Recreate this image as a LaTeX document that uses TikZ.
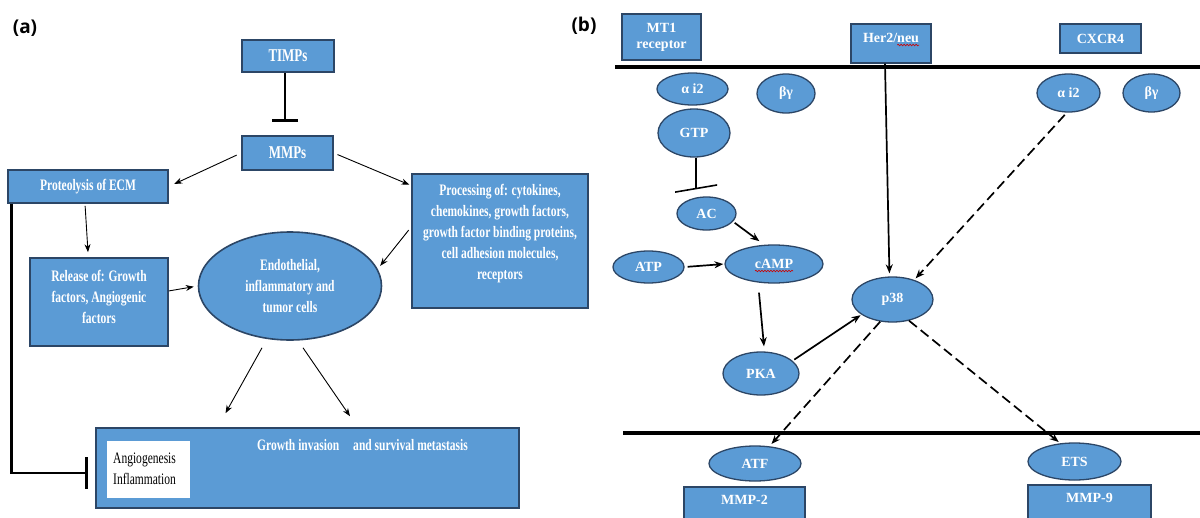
\documentclass[tikz,border=0pt]{standalone}
\usepackage{fontspec}
\setmainfont{Liberation Serif}
\newfontfamily\lfont[FakeStretch=0.72]{Liberation Serif}
\newfontfamily\labfont{Open Sans}
\usetikzlibrary{shapes.geometric,arrows.meta,decorations.pathmorphing}
\definecolor{mblue}{RGB}{91,155,213}
\definecolor{bord}{RGB}{44,70,102}
\tikzset{
  lbox/.style={rectangle, draw=bord, fill=mblue, line width=1.6pt, text=white, inner sep=0pt,
    font=\lfont\bfseries\fontsize{16}{21}\selectfont, align=center},
  lell/.style={ellipse, draw=bord, fill=mblue, line width=1.6pt, text=white, inner sep=0pt,
    font=\lfont\bfseries\fontsize{16}{21}\selectfont, align=center},
  ltxt/.style={text=white, inner sep=0pt, font=\lfont\bfseries\fontsize{16}{21}\selectfont, align=center},
  bigtxt/.style={font=\lfont\bfseries\fontsize{18}{21}\selectfont},
  rbox/.style={rectangle, draw=bord, fill=mblue, line width=1.3pt, text=white, inner sep=0pt,
    font=\bfseries\fontsize{14}{16}\selectfont, align=center},
  rell/.style={ellipse, draw=bord, fill=mblue, line width=1.3pt, text=white, inner sep=0pt,
    font=\bfseries\fontsize{14}{16}\selectfont, align=center},
  rtxt/.style={text=white, inner sep=0pt, font=\bfseries\fontsize{14}{16}\selectfont},
  arrL/.style={-{Stealth[length=8pt,width=6pt]}, line width=0.9pt},
  arrR/.style={-{Stealth[length=9pt,width=7pt]}, line width=1.7pt},
  dashR/.style={arrR, dash pattern=on 10pt off 5pt},
  inhL/.style={line width=2.8pt},
  mem/.style={line width=3.2pt},
  squig/.style={red!80!black, line width=0.6pt, decorate, decoration={snake, amplitude=0.8pt, segment length=3pt}},
  lab/.style={inner sep=0pt, font=\labfont\bfseries\fontsize{19}{22}\selectfont}
}
\begin{document}
\begin{tikzpicture}[x=1pt,y=-1pt]
\useasboundingbox (0,0) rectangle (1200,517);
\fill[white] (0,0) rectangle (1200,517);
% ---------- panel (a) ----------
\node[lab] (la) at (25,28) {(a)};
\node[lbox, bigtxt, minimum width=92pt, minimum height=32pt] (timps) at (288,56) {TIMPs};
\node[lbox, bigtxt, minimum width=91pt, minimum height=34pt] (mmps) at (287.5,153) {MMPs};
\node[lbox, minimum width=160pt, minimum height=33pt] (prot) at (88,186.5) {Proteolysis of ECM};
\node[lbox, minimum width=176pt, minimum height=134pt] (proc) at (500,241) {};
\node[ltxt] (proct) at (500,234) {Processing of: cytokines,\\chemokines, growth factors,\\growth factor binding proteins,\\cell adhesion molecules,\\receptors};
\node[lbox, minimum width=138pt, minimum height=88pt] (rel) at (99,302) {};
\node[ltxt] (relt) at (99,297) {Release of: Growth\\factors, Angiogenic\\factors};
\node[lell, minimum width=183pt, minimum height=108pt] (ell) at (290,286) {Endothelial,\\inflammatory and\\tumor cells};
\node[lbox, minimum width=423pt, minimum height=80pt] (big) at (307.5,468) {};
\node[fill=white, minimum width=83pt, minimum height=57pt, inner sep=0pt] (angbox) at (148,469.5) {};
\node[anchor=west, align=left, inner sep=0pt, font=\lfont\fontsize{16}{21}\selectfont] (angt) at (113,468.5) {Angiogenesis\\Inflammation};
\node[ltxt, anchor=west] (grow) at (257,445) {Growth invasion\hspace{14pt}and survival metastasis};

\draw[inhL, -{Bar[width=26pt]}] ([xshift=-3pt]timps.south) -- ([xshift=-2.5pt,yshift=13pt]mmps.north);
\draw[arrL, shorten <=5pt, shorten >=6pt] (mmps.west) -- (prot.east);
\draw[arrL, shorten <=4pt, shorten >=2pt] (mmps.east) -- (proc.148);
\draw[arrL, shorten <=2pt] ([xshift=-3pt]prot.south) -- ([xshift=-11pt,yshift=5pt]rel.north);
\draw[arrL, shorten >=4pt] (rel.9) -- (ell.west);
\draw[arrL, shorten <=4pt, shorten >=4pt] (proc.171) -- (ell.11);
\draw[arrL] ([xshift=-28pt,yshift=-7pt]ell.south) -- ([xshift=-82pt,yshift=14pt]big.north);
\draw[arrL] ([xshift=13pt,yshift=-7pt]ell.south) -- ([xshift=42.5pt,yshift=11pt]big.north);
\draw[inhL, -{Bar[width=32pt]}] ([xshift=4pt]prot.south west) |- ([xshift=-7pt,yshift=-5pt]big.west);

% ---------- panel (b) ----------
\node[lab] (lb) at (584,26) {(b)};
\coordinate (mtL) at (615,67);
\coordinate (mtR) at (1200,67);
\coordinate (mbL) at (623,433);
\coordinate (mbR) at (1200,433);
\draw[mem] (mtL) -- (mtR);
\draw[mem] (mbL) -- (mbR);

\node[rbox, minimum width=79pt, minimum height=46pt] (mt1) at (661.5,37) {MT1\\receptor};
\node[rbox, minimum width=80pt, minimum height=39pt] (her2) at (891,43.5) {};
\node[rtxt] (her2t) at (891,38) {Her2/neu};
\node[rbox, minimum width=81pt, minimum height=29pt] (cxcr4) at (1100.5,38.5) {CXCR4};

\node[rell, minimum width=71pt, minimum height=32pt] (ai2a) at (692.5,89) {α i2};
\node[rell, minimum width=58pt, minimum height=39pt] (bga) at (786,93.5) {βγ};
\node[rell, minimum width=72pt, minimum height=48pt] (gtp) at (694,133) {GTP};
\node[rell, minimum width=59pt, minimum height=33pt] (ac) at (706.5,213.5) {AC};
\node[rell, minimum width=71pt, minimum height=32pt] (atp) at (648.5,267) {ATP};
\node[rell, minimum width=98pt, minimum height=38pt] (camp) at (774,264) {cAMP};
\node[rell, minimum width=76pt, minimum height=43pt] (pka) at (761,373.5) {PKA};
\node[rell, minimum width=81pt, minimum height=45pt] (p38) at (892.5,299.5) {p38};
\node[rell, minimum width=63pt, minimum height=38pt] (ai2b) at (1068.5,93) {α i2};
\node[rell, minimum width=57pt, minimum height=38pt] (bgb) at (1151.5,93) {βγ};
\node[rell, minimum width=92pt, minimum height=35pt] (atf) at (755,463.5) {ATF};
\node[rell, minimum width=93pt, minimum height=37pt] (ets) at (1074.5,461.5) {ETS};
\node[rbox, minimum width=121pt, minimum height=46pt] (mmp2) at (744.5,510) {};
\node[rtxt] (mmp2t) at (744.5,500) {MMP-2};
\node[rbox, minimum width=123pt, minimum height=46pt] (mmp9) at (1089.5,508) {};
\node[rtxt] (mmp9t) at (1089.5,498) {MMP-9};

\draw[squig] ([xshift=-22pt,yshift=-2.5pt]her2t.base east) -- ([yshift=-2.5pt]her2t.base east);
\draw[squig] ([xshift=-19pt,yshift=-7pt]camp.center) -- ([xshift=19pt,yshift=-7pt]camp.center);

\draw[line width=1.6pt, -{Bar[width=42pt, slant=-0.17]}] ([xshift=2pt]gtp.south) -- ([xshift=-10.5pt,yshift=7pt]ac.north);
\draw[arrR, shorten <=2pt, shorten >=6pt] (ac.-17) -- (camp.117);
\draw[arrR, shorten <=3pt, shorten >=1pt] (atp.east) -- (camp.west);
\draw[arrR] ([xshift=-15pt,yshift=-9pt]camp.south) -- ([xshift=3pt,yshift=5pt]pka.north);
\draw[arrR, shorten <=2pt, shorten >=1pt] (pka.22) -- (p38.206);
\draw[arrR, shorten >=3pt] ([xshift=-6pt]her2.south) -- ([xshift=-3pt]p38.north);
\draw[dashR, shorten <=3pt, shorten >=2pt] (ai2b.265) -- (p38.42);
\draw[dashR, shorten >=3pt] (p38.241) -- (atf.50);
\draw[dashR, shorten >=2pt] (p38.-52) -- (ets.128);
\end{tikzpicture}
\end{document}
